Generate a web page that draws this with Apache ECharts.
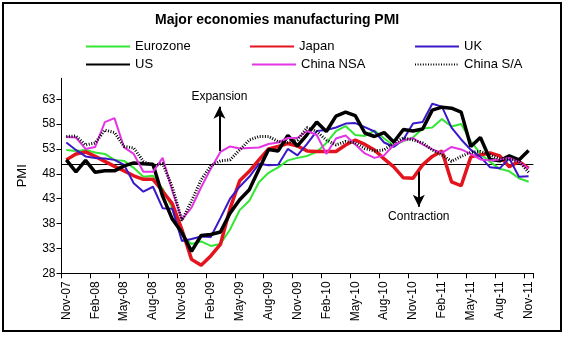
<!DOCTYPE html>
<html>
<head>
<meta charset="utf-8">
<script src="https://cdn.jsdelivr.net/npm/echarts@6/dist/echarts.min.js"></script>
<style>
html, body { margin: 0; padding: 0; background: #fff; }
#chart { width: 569px; height: 339px; }
</style>
</head>
<body>
<div id="chart"></div>
<script>
// Monthly manufacturing PMI readings, Nov-07 .. Nov-11
const months = [
  'Nov-07','Dec-07','Jan-08','Feb-08','Mar-08','Apr-08','May-08','Jun-08','Jul-08','Aug-08','Sep-08','Oct-08',
  'Nov-08','Dec-08','Jan-09','Feb-09','Mar-09','Apr-09','May-09','Jun-09','Jul-09','Aug-09','Sep-09','Oct-09',
  'Nov-09','Dec-09','Jan-10','Feb-10','Mar-10','Apr-10','May-10','Jun-10','Jul-10','Aug-10','Sep-10','Oct-10',
  'Nov-10','Dec-10','Jan-11','Feb-11','Mar-11','Apr-11','May-11','Jun-11','Jul-11','Aug-11','Sep-11','Oct-11',
  'Nov-11'
];

const eurozone = [52.8, 52.6, 52.8, 52.3, 52.0, 50.8, 50.6, 49.2, 47.4, 47.6, 45.0, 41.1,
  35.6, 33.9, 34.4, 33.5, 33.9, 36.8, 40.7, 42.6, 46.3, 48.2, 49.3, 50.7,
  51.2, 51.6, 52.4, 54.2, 56.6, 57.6, 55.8, 55.6, 56.7, 55.1, 53.7, 54.6,
  55.3, 57.1, 57.3, 59.0, 57.5, 58.0, 54.6, 52.0, 50.4, 49.0, 48.5, 47.1,
  46.4];

const japan = [50.8, 52.0, 52.4, 51.5, 50.5, 49.5, 48.6, 47.6, 46.9, 46.9, 44.5, 42.0,
  36.8, 30.8, 29.6, 31.5, 33.8, 41.0, 46.6, 48.5, 50.8, 53.0, 53.5, 54.1,
  53.6, 52.6, 52.5, 52.5, 52.5, 53.8, 54.8, 53.9, 52.8, 51.0, 49.4, 47.2,
  47.1, 49.8, 51.5, 52.6, 46.4, 45.6, 51.4, 51.8, 52.2, 51.6, 49.4, 50.5,
  49.1];

const uk = [54.3, 52.8, 51.5, 51.2, 51.1, 50.8, 49.8, 46.1, 44.4, 45.4, 41.1, 41.0,
  34.5, 34.9, 35.4, 35.3, 39.1, 43.0, 45.4, 47.4, 50.0, 49.7, 49.8, 53.0,
  51.7, 54.0, 56.6, 56.8, 57.3, 58.1, 58.2, 57.4, 56.5, 54.3, 53.4, 54.9,
  58.1, 58.4, 62.1, 61.5, 57.3, 54.9, 52.8, 51.4, 49.3, 49.1, 51.1, 47.4,
  47.5];

const us = [50.8, 48.4, 50.7, 48.3, 48.6, 48.6, 49.6, 50.2, 50.0, 49.9, 43.5, 38.9,
  36.2, 32.4, 35.6, 35.8, 36.3, 40.1, 42.8, 44.8, 48.9, 52.9, 52.6, 55.7,
  53.6, 55.9, 58.4, 56.5, 59.6, 60.4, 59.7, 56.2, 55.5, 56.3, 54.4, 56.9,
  56.6, 57.0, 60.8, 61.4, 61.2, 60.4, 53.5, 55.3, 50.9, 50.6, 51.6, 50.8,
  52.7];

const chinaNsa = [55.4, 55.3, 53.0, 53.4, 58.4, 59.2, 53.3, 52.0, 48.4, 48.4, 51.2, 44.6,
  38.8, 41.2, 45.3, 49.0, 52.4, 53.5, 53.1, 53.2, 53.3, 54.0, 54.3, 55.2,
  55.2, 56.6, 55.8, 52.0, 55.1, 55.7, 53.9, 52.1, 51.2, 51.7, 53.8, 54.7,
  55.2, 53.9, 52.9, 52.2, 53.4, 52.9, 52.0, 50.9, 50.7, 50.9, 51.2, 50.4,
  49.0];

const chinaSa = [55.5, 55.6, 53.8, 54.2, 56.8, 56.3, 53.5, 53.2, 50.5, 49.6, 50.1, 45.4,
  38.6, 42.5, 46.8, 49.6, 50.6, 50.8, 52.8, 54.8, 55.5, 55.5, 54.5, 54.3,
  54.8, 57.3, 56.5, 54.8, 53.8, 54.5, 54.2, 53.1, 52.6, 52.8, 54.2, 55.2,
  54.8, 54.2, 52.8, 51.8, 50.5, 51.5, 52.3, 52.5, 51.8, 51.0, 51.0, 50.5,
  48.3];

const yTicks = [28, 33, 38, 43, 48, 53, 58, 63];
const threshold = 50;

const FONT = '"Liberation Sans", Arial, sans-serif';

function lineSeries(name, data, color, width, type) {
  return {
    name: name,
    type: 'line',
    data: data,
    symbol: 'none',
    showSymbol: false,
    lineStyle: { color: color, width: width, type: type || 'solid' },
    itemStyle: { color: color },
    emphasis: { disabled: true },
    animation: false
  };
}

function legendAt(name, left, top) {
  return {
    data: [name],
    left: left,
    top: top,
    itemWidth: 44,
    itemHeight: 12,
    selectedMode: false,
    itemStyle: { opacity: 0 },
    textStyle: { fontFamily: FONT, fontSize: 13, color: '#000' }
  };
}

const chart = echarts.init(document.getElementById('chart'), null, { renderer: 'canvas' });

chart.setOption({
  animation: false,
  backgroundColor: '#fff',
  title: {
    text: 'Major economies manufacturing PMI',
    left: 150,
    top: 8,
    textStyle: { fontFamily: FONT, fontSize: 14, fontWeight: 'bold', color: '#000' }
  },
  legend: [
    legendAt('Eurozone', 80, 35),
    legendAt('Japan', 244, 35),
    legendAt('UK', 409, 35),
    legendAt('US', 80, 53),
    legendAt('China NSA', 246, 53),
    legendAt('China S/A', 409, 53)
  ],
  grid: { left: 61.5, right: 35.6, top: 78.3, bottom: 65.7, containLabel: false },
  xAxis: [
    {
      type: 'category',
      data: months,
      boundaryGap: true,
      axisLine: { lineStyle: { color: '#000', width: 1 } },
      axisTick: { show: true, interval: 2, length: 5, lineStyle: { color: '#000' } },
      axisLabel: { interval: 2, rotate: 90, margin: 8, fontFamily: FONT, fontSize: 12, color: '#000' },
      splitLine: { show: false }
    },
    {
      // hidden linear axis used to place the annotation arrows
      type: 'value',
      min: 0,
      max: 49,
      show: false
    }
  ],
  yAxis: {
    type: 'value',
    min: 28,
    max: 67.2,
    interval: 5,
    name: 'PMI',
    nameLocation: 'middle',
    nameRotate: 90,
    nameGap: 33,
    nameTextStyle: { fontFamily: FONT, fontSize: 13, color: '#000' },
    axisLine: { show: true, lineStyle: { color: '#000', width: 1 } },
    axisTick: { show: true, length: 5, lineStyle: { color: '#000' }, customValues: yTicks },
    axisLabel: { fontFamily: FONT, fontSize: 12, color: '#000', margin: 6, customValues: yTicks },
    splitLine: { show: false }
  },
  graphic: [
    {
      type: 'rect',
      shape: { x: 3, y: 3, width: 558, height: 328 },
      style: { fill: 'none', stroke: '#000', lineWidth: 2 },
      silent: true,
      z: 100
    }
  ],
  series: [
    {
      name: 'threshold',
      type: 'line',
      xAxisIndex: 1,
      data: [],
      silent: true,
      markLine: {
        silent: true,
        z: 1,
        symbol: ['none', 'none'],
        label: { show: false },
        lineStyle: { color: '#000', width: 1, type: 'solid' },
        data: [{ yAxis: threshold }]
      }
    },
    lineSeries('Eurozone', eurozone, '#33e633', 2),
    lineSeries('Japan', japan, '#e3141e', 3.5),
    lineSeries('UK', uk, '#3a18c8', 2),
    lineSeries('US', us, '#000000', 3.5),
    lineSeries('China NSA', chinaNsa, '#e435e4', 2),
    lineSeries('China S/A', chinaSa, '#000000', 3, [1, 1.6]),
    {
      name: 'arrows',
      type: 'line',
      xAxisIndex: 1,
      data: [],
      silent: true,
      markLine: {
        silent: true,
        z: 10,
        symbol: ['none', 'arrow'],
        symbolSize: [9, 12],
        lineStyle: { color: '#000', width: 2, type: 'solid' },
        label: {
          show: true,
          position: 'end',
          formatter: '{b}',
          distance: 4,
          fontFamily: FONT,
          fontSize: 12,
          color: '#000'
        },
        data: [
          [{ name: 'Expansion', coord: [16.4, 52.6] }, { coord: [16.4, 61.5] }],
          [{ name: 'Contraction', coord: [37.1, 48.4] }, { coord: [37.1, 41.4] }]
        ]
      }
    }
  ]
});
</script>
</body>
</html>
